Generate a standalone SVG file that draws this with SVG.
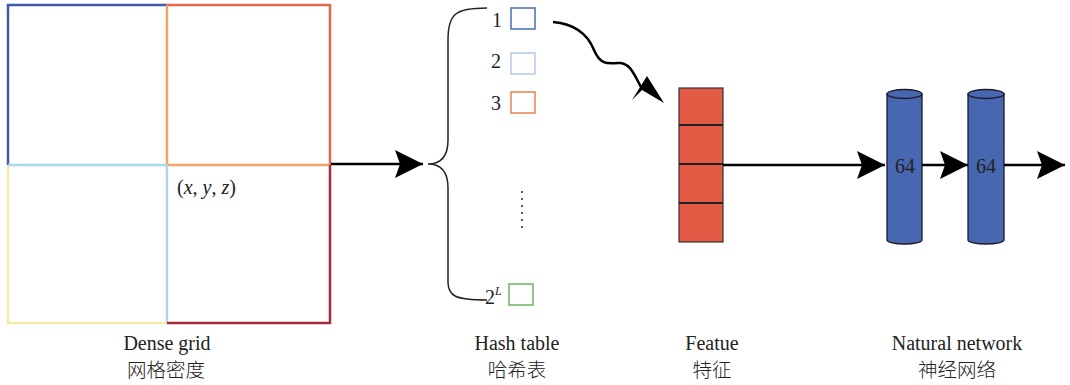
<svg xmlns="http://www.w3.org/2000/svg" width="1070" height="385" viewBox="0 0 1070 385">
<style>
.lbl{font-family:"Liberation Serif",serif;font-size:20px;fill:#222;text-anchor:middle}
.zh{font-family:"Noto Sans CJK SC",sans-serif;font-size:19.5px;font-weight:300;fill:#222;text-anchor:middle}
.num{font-family:"Liberation Serif",serif;font-size:20px;fill:#222}
.g{fill:none;stroke-width:2.5}
.conn{fill:none;stroke:#000;stroke-width:2.5}
.cyl{fill:#4767b0;stroke:#1a1a2a;stroke-width:1.3}
</style>
<defs>
<marker id="ah" markerWidth="30" markerHeight="30" viewBox="0 0 30 30" refX="28" refY="15" orient="auto" markerUnits="userSpaceOnUse">
<path d="M0,1 L28,15 L0,29 L5,15 Z" fill="#000"/>
</marker>
</defs>
<g id="dense-grid">
<path class="g" d="M8,165 V5 H167" stroke="#3f5aa8"/>
<path class="g" d="M167,5 H330 V165" stroke="#e6674f"/>
<path class="g" d="M167,5 V165 H330" stroke="#f2a365"/>
<path class="g" d="M8,165 V323 H167" stroke="#f2eaa6"/>
<path class="g" d="M8,165 H167 V323" stroke="#aad8e6"/>
<path class="g" d="M167,323 H330 V165" stroke="#a82a3e"/>
<text x="177" y="194" font-family="Liberation Serif,serif" font-size="20" fill="#222">(<tspan font-style="italic">x</tspan>, <tspan font-style="italic">y</tspan>, <tspan font-style="italic">z</tspan>)</text>
</g>
<g id="hash-table">
<path d="M487,8 C455,8 448,14 448,40 V140 C448,158 440,164 428,164 C440,164 448,170 448,188 V282 C448,296 455,300 487,300" fill="none" stroke="#222" stroke-width="1.5"/>
<text class="num" x="492" y="27">1</text>
<text class="num" x="491" y="68">2</text>
<text class="num" x="491" y="110">3</text>
<text class="num" x="485" y="304">2<tspan font-size="12" font-style="italic" dy="-9">L</tspan></text>
<rect x="511" y="8" width="24" height="21" fill="#fff" stroke="#4a6db4" stroke-width="1.5"/>
<rect x="511" y="53" width="24" height="21" fill="#fff" stroke="#b2c9e8" stroke-width="1.5"/>
<rect x="511" y="92" width="24" height="21" fill="#fff" stroke="#e8824f" stroke-width="1.5"/>
<rect x="509" y="284" width="24" height="21" fill="#fff" stroke="#6cb262" stroke-width="1.5"/>
<g fill="#222"><circle cx="522" cy="192" r="1"/><circle cx="522" cy="199" r="1"/><circle cx="522" cy="206" r="1"/><circle cx="522" cy="213" r="1"/><circle cx="522" cy="220" r="1"/><circle cx="522" cy="227" r="1"/></g>
</g>
<g id="feature">
<rect x="679" y="88" width="44" height="154" fill="#e35b45" stroke="#333" stroke-width="1.2"/>
<path d="M679,125 H723 M679,164 H723 M679,203 H723" stroke="#222" stroke-width="2"/>
</g>
<g id="network">
<path class="cyl" d="M887,94 V240 A17.5,4 0 0 0 922,240 V94 Z"/>
<ellipse class="cyl" cx="904.5" cy="94" rx="17.5" ry="4.5"/>
<path class="cyl" d="M968,94 V240 A18,4 0 0 0 1004,240 V94 Z"/>
<ellipse class="cyl" cx="986" cy="94" rx="18" ry="4.5"/>
</g>
<g id="connectors">
<line class="conn" x1="331" y1="164" x2="423" y2="164" marker-end="url(#ah)"/>
<path class="conn" d="M553,22 C576,24 588,35 594,50 C600,64 606,64 618,63 C630,62 634,74 642,89"/>
<polygon points="632,100 647,76 664,103 642,90" fill="#000"/>
<line class="conn" x1="723" y1="165" x2="885" y2="165" marker-end="url(#ah)"/>
<line class="conn" x1="922" y1="165" x2="968" y2="165" marker-end="url(#ah)"/>
<line class="conn" x1="1004" y1="165" x2="1065" y2="165" marker-end="url(#ah)"/>
</g>
<g id="network-labels">
<text x="905" y="173" font-family="Liberation Serif,serif" font-size="20" fill="#222" text-anchor="middle">64</text>
<text x="986" y="173" font-family="Liberation Serif,serif" font-size="20" fill="#222" text-anchor="middle">64</text>
</g>
<g id="captions">
<text class="lbl" x="167" y="350">Dense grid</text>
<text class="zh" x="166" y="377">网格密度</text>
<text class="lbl" x="517" y="350">Hash table</text>
<text class="zh" x="517" y="377">哈希表</text>
<text class="lbl" x="712" y="350">Featue</text>
<text class="zh" x="712" y="377">特征</text>
<text class="lbl" x="957" y="350">Natural network</text>
<text class="zh" x="957" y="377">神经网络</text>
</g>
</svg>
